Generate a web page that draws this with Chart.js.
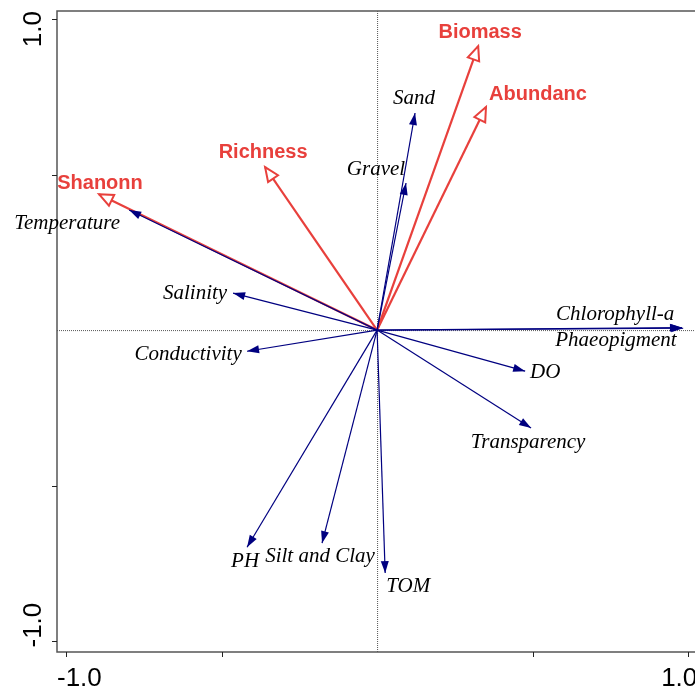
<!DOCTYPE html>
<html>
<head>
<meta charset="utf-8">
<script src="https://cdn.jsdelivr.net/npm/chart.js@4"></script>
<style>
  html, body { margin: 0; padding: 0; background: #fff; }
  #wrap { width: 695px; height: 689px; }
</style>
</head>
<body>
<div id="wrap"><canvas id="myChart" width="695" height="689"></canvas></div>
<script>
// species (red, hollow heads)
var sppNames = ['Biomass', 'Abundanc', 'Richness', 'Shanonn'];
var sppX = [0.325, 0.350, -0.360, -0.894];
var sppY = [0.913, 0.717, 0.524, 0.437];

// environmental variables (navy, filled heads)
var envNames = ['Temperature', 'Salinity', 'Conductivity', 'Sand', 'Gravel', 'Chlorophyll-a',
  'Phaeopigment', 'DO', 'Transparency', 'PH', 'Silt and Clay', 'TOM'];
var envX = [-0.797, -0.463, -0.418, 0.122, 0.093, 0.984, 0.980, 0.476, 0.495, -0.418, -0.177, 0.026];
var envY = [0.386, 0.119, -0.068, 0.698, 0.473, 0.006, 0.008, -0.132, -0.315, -0.698, -0.685, -0.781];

var tickValues = [-1.0, -0.5, 0.5, 1.0];
var tickLabels = ['-1.0', '1.0'];

// label offsets from arrow tip (px)
var sppLabelOff = [[2, -14], [52, -13], [-2, -15], [1, -11]];
var envLabelOff = [[-62, 13], [-38, 0], [-59, 3], [-1, -15], [-30, -14], [-68, -14],
  [-66, 13], [20, 1], [-3, 14], [-2, 14], [-2, 13], [23, 13]];

var RED = 'rgb(232,64,60)';
var NAVY = '#000080';

function makeSets(names, xs, ys, color, width, order) {
  return names.map(function (n, i) {
    return {
      label: n,
      data: [{x: 0, y: 0}, {x: xs[i], y: ys[i]}],
      showLine: true,
      borderColor: color,
      borderWidth: width,
      pointRadius: 0,
      order: order
    };
  });
}

function head(ctx, x0, y0, x1, y1, len, half, hollow, color) {
  var a = Math.atan2(y1 - y0, x1 - x0);
  var bx = x1 - len * Math.cos(a), by = y1 - len * Math.sin(a);
  var px = -Math.sin(a) * half, py = Math.cos(a) * half;
  ctx.beginPath();
  ctx.moveTo(x1, y1);
  ctx.lineTo(bx + px, by + py);
  ctx.lineTo(bx - px, by - py);
  ctx.closePath();
  if (hollow) {
    ctx.fillStyle = '#fff';
    ctx.fill();
    ctx.lineWidth = 2;
    ctx.strokeStyle = color;
    ctx.stroke();
  } else {
    ctx.fillStyle = color;
    ctx.fill();
  }
}

var biplot = {
  id: 'biplot',
  beforeDatasetsDraw: function (chart) {
    var ctx = chart.ctx, a = chart.chartArea;
    var xs = chart.scales.x, ys = chart.scales.y;
    var x0 = xs.getPixelForValue(0), y0 = ys.getPixelForValue(0);
    ctx.save();
    // dotted zero lines
    ctx.strokeStyle = '#555';
    ctx.lineWidth = 1;
    ctx.setLineDash([1, 1]);
    ctx.beginPath();
    ctx.moveTo(x0 + 0.5, a.top); ctx.lineTo(x0 + 0.5, a.bottom);
    ctx.moveTo(a.left, y0 + 0.5); ctx.lineTo(a.right, y0 + 0.5);
    ctx.stroke();
    ctx.setLineDash([]);
    // frame
    ctx.strokeStyle = '#555';
    ctx.lineWidth = 1.5;
    ctx.strokeRect(a.left, a.top, a.right - a.left + 2, a.bottom - a.top);
    // ticks
    ctx.strokeStyle = '#222';
    ctx.lineWidth = 1;
    ctx.beginPath();
    tickValues.forEach(function (v) {
      var px = Math.round(xs.getPixelForValue(v)) + 0.5;
      ctx.moveTo(px, a.bottom); ctx.lineTo(px, a.bottom + 5);
      var py = Math.round(ys.getPixelForValue(v)) + 0.5;
      ctx.moveTo(a.left, py); ctx.lineTo(a.left - 5, py);
    });
    ctx.stroke();
    // tick labels
    ctx.fillStyle = '#000';
    ctx.font = '26px "Liberation Sans", Arial, sans-serif';
    ctx.textBaseline = 'alphabetic';
    ctx.textAlign = 'left';
    ctx.fillText(tickLabels[0], a.left, a.bottom + 34);
    ctx.fillText(tickLabels[1], xs.getPixelForValue(1.0) - 27, a.bottom + 34);
    ctx.textAlign = 'center';
    ctx.save();
    ctx.translate(41, ys.getPixelForValue(1.0) + 10);
    ctx.rotate(-Math.PI / 2);
    ctx.fillText(tickLabels[1], 0, 0);
    ctx.restore();
    ctx.save();
    ctx.translate(41, ys.getPixelForValue(-1.0) - 16);
    ctx.rotate(-Math.PI / 2);
    ctx.fillText(tickLabels[0], 0, 0);
    ctx.restore();
    ctx.restore();
  },
  afterDatasetsDraw: function (chart) {
    var ctx = chart.ctx;
    var xs = chart.scales.x, ys = chart.scales.y;
    var x0 = xs.getPixelForValue(0), y0 = ys.getPixelForValue(0);
    ctx.save();
    ctx.textAlign = 'center';
    ctx.textBaseline = 'middle';
    sppNames.forEach(function (n, i) {
      var tx = xs.getPixelForValue(sppX[i]), ty = ys.getPixelForValue(sppY[i]);
      head(ctx, x0, y0, tx, ty, 14, 6, true, RED);
      ctx.fillStyle = RED;
      ctx.font = 'bold 20px "Liberation Sans", Arial, sans-serif';
      ctx.fillText(n, tx + sppLabelOff[i][0], ty + sppLabelOff[i][1]);
    });
    envNames.forEach(function (n, i) {
      var tx = xs.getPixelForValue(envX[i]), ty = ys.getPixelForValue(envY[i]);
      head(ctx, x0, y0, tx, ty, 12, 4, false, NAVY);
      ctx.fillStyle = '#000';
      ctx.font = 'italic 21px "Liberation Serif", "Times New Roman", serif';
      ctx.fillText(n, tx + envLabelOff[i][0], ty + envLabelOff[i][1]);
    });
    ctx.restore();
  }
};

var ctx = document.getElementById('myChart');
new Chart(ctx, {
  type: 'scatter',
  data: {
    datasets: makeSets(envNames, envX, envY, NAVY, 1.2, 0)
      .concat(makeSets(sppNames, sppX, sppY, RED, 2.2, 1))
  },
  options: {
    responsive: false,
    animation: false,
    layout: { padding: { left: 57, top: 11, right: 0, bottom: 37 } },
    plugins: { legend: { display: false }, tooltip: { enabled: false } },
    scales: {
      x: { type: 'linear', min: -1.029, max: 1.022, display: false },
      y: { type: 'linear', min: -1.035, max: 1.026, display: false }
    }
  },
  plugins: [biplot]
});
</script>
</body>
</html>
